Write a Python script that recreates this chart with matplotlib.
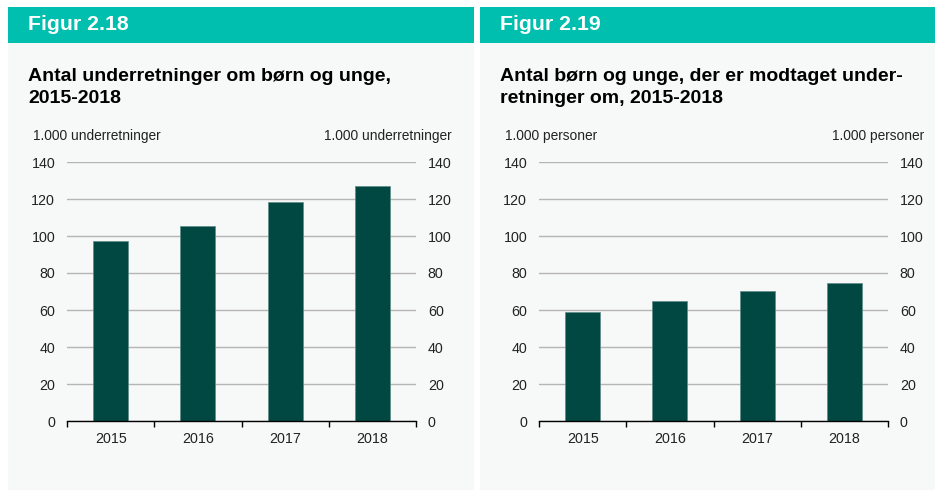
import matplotlib
matplotlib.use("Agg")
import matplotlib.pyplot as plt
from matplotlib.patches import Rectangle

plt.rcParams['font.family'] = ['Liberation Sans', 'DejaVu Sans']

years = ["2015", "2016", "2017", "2018"]
underretninger = [97.3, 105.2, 118.4, 127.0]
personer = [58.8, 65.0, 70.4, 74.8]
yticks = [0, 20, 40, 60, 80, 100, 120, 140]

panels = [
    dict(fig="Figur 2.18",
         title="Antal underretninger om børn og unge,\n2015-2018",
         unit="1.000 underretninger", values=underretninger),
    dict(fig="Figur 2.19",
         title="Antal børn og unge, der er modtaget under-\nretninger om, 2015-2018",
         unit="1.000 personer", values=personer),
]

W, H = 935, 490
fig = plt.figure(figsize=(W / 100, H / 100), dpi=100)
fig.patch.set_facecolor("white")

teal = "#00BFAE"
panel_bg = "#F7F8F8"
bar_col = "#004841"

panel_x = [(8, 474), (480, 935)]
axes_x = [67, 539]
ax_w = 349
ax_top, ax_bot = 162, 421

for i, p in enumerate(panels):
    x0, x1 = panel_x[i]
    fig.patches.append(Rectangle((x0 / W, 0), (x1 - x0) / W, (H - 43) / H,
                                 transform=fig.transFigure, facecolor=panel_bg,
                                 edgecolor="none", zorder=-10))
    fig.patches.append(Rectangle((x0 / W, (H - 43) / H), (x1 - x0) / W, 36 / H,
                                 transform=fig.transFigure, facecolor=teal,
                                 edgecolor="none", zorder=-10))
    fig.text((x0 + 20) / W, (H - 25) / H, p["fig"], color="white",
             fontsize=15.3, fontweight="bold", va="center", ha="left")
    fig.text((x0 + 20) / W, (H - 68) / H, p["title"], color="black",
             fontsize=14, fontweight="bold", va="top", ha="left",
             linespacing=1.38)

    ax = fig.add_axes([axes_x[i] / W, (H - ax_bot) / H, ax_w / W,
                       (ax_bot - ax_top) / H])
    ax.set_facecolor("none")
    xs = range(len(years))
    ax.bar(xs, p["values"], width=0.4, color=bar_col, edgecolor="#5f8c86",
           linewidth=0.5, zorder=3)
    ax.set_xlim(-0.5, len(years) - 0.5)
    ax.set_ylim(0, 140)
    ax.set_yticks(yticks)
    ax.yaxis.grid(True, color="#b5b5b5", linewidth=1.0, zorder=0)
    ax.set_axisbelow(True)
    for s in ["left", "right", "top"]:
        ax.spines[s].set_visible(False)
    ax.spines["bottom"].set_color("black")
    ax.spines["bottom"].set_linewidth(1.0)
    ax.spines["bottom"].set_zorder(4)
    ax.set_xticks(list(xs))
    ax.set_xticklabels(years, fontsize=10.3, color="#222222")
    ax.set_xticks([k - 0.5 for k in range(len(years) + 1)], minor=True)
    ax.tick_params(axis="x", which="major", length=0, pad=8)
    ax.tick_params(axis="x", which="minor", length=4, direction="out",
                   color="black", width=1)
    ax.tick_params(axis="y", length=0, labelsize=10.3, pad=8.5, colors="#222222")

    ax2 = ax.twinx()
    ax2.set_ylim(0, 140)
    ax2.set_yticks(yticks)
    for s in ["left", "right", "top", "bottom"]:
        ax2.spines[s].set_visible(False)
    ax2.tick_params(axis="y", length=0, labelsize=10.3, pad=8.5, colors="#222222")

    fig.text((axes_x[i] - 34) / W, (H - 136) / H, p["unit"], fontsize=9.9,
             va="center", ha="left", color="#222222")
    fig.text((axes_x[i] + ax_w + 36) / W, (H - 136) / H, p["unit"], fontsize=9.9,
             va="center", ha="right", color="#222222")

fig.savefig("out.png", dpi=100, facecolor="white")
